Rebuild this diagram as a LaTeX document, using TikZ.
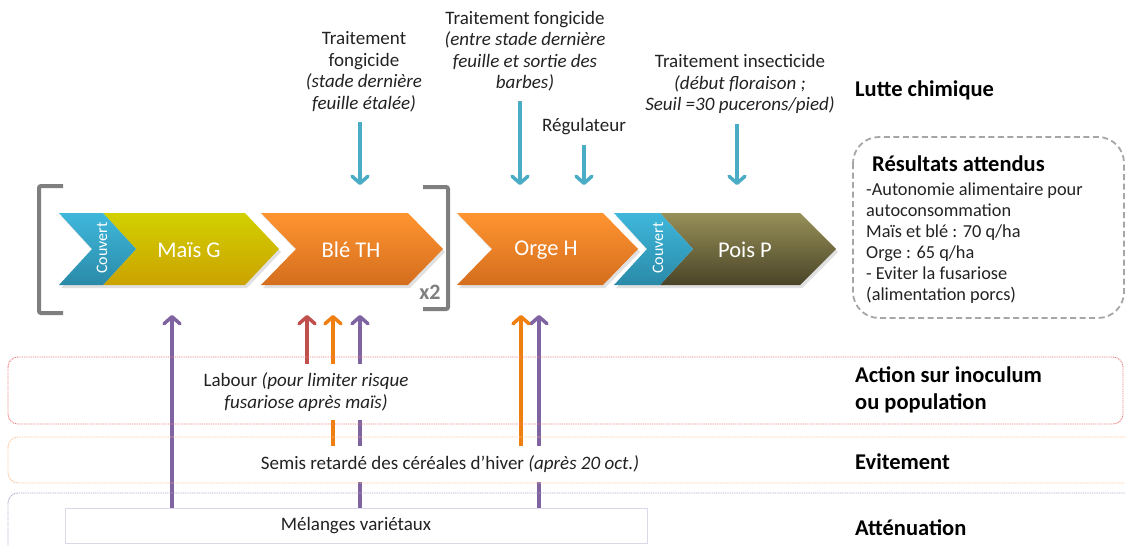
\documentclass[tikz,border=0pt]{standalone}
\usepackage{fontspec}
\setmainfont{Carlito}
\usetikzlibrary{arrows.meta,calc,backgrounds}
\definecolor{txt}{HTML}{222222}
\definecolor{blueA}{HTML}{4BACC6}
\definecolor{purA}{HTML}{8064A2}
\definecolor{redA}{HTML}{C0504D}
\definecolor{oraA}{HTML}{F07F12}
\definecolor{covT}{HTML}{3FB8DC}
\definecolor{covB}{HTML}{2A8AA8}
\definecolor{maisT}{HTML}{D2D000}
\definecolor{maisB}{HTML}{CBA200}
\definecolor{bleT}{HTML}{FF9430}
\definecolor{bleB}{HTML}{D46E1E}
\definecolor{poisT}{HTML}{979058}
\definecolor{poisB}{HTML}{4A4428}
\definecolor{brk}{HTML}{7F7F7F}
\definecolor{bandR}{HTML}{E98080}
\definecolor{bandO}{HTML}{FBC295}
\definecolor{bandP}{HTML}{B3A5CC}
\definecolor{melB}{HTML}{DCD8EA}
\definecolor{resB}{HTML}{A6A6A6}
\tikzset{
  body/.style={font=\fontsize{19}{21.5}\selectfont, text=txt, align=center, inner sep=0pt},
  lab/.style={font=\bfseries\fontsize{22.5}{27}\selectfont, text=black, align=left, anchor=base west, inner sep=0pt},
  chevtext/.style={font=\fontsize{22.5}{26}\selectfont, text=white, inner sep=0pt},
  covtext/.style={font=\fontsize{16}{18}\selectfont, text=white, rotate=90, inner sep=0pt},
  tipA/.style={-{Straight Barb[length=7pt,width=16pt,line width'=3.5pt,round]}},
  downarr/.style={draw=blueA, line width=3.5pt, shorten <=10pt, tipA},
  uparr/.style={line width=3.2pt, tipA},
  bracket/.style={draw=brk, line width=4pt, rounded corners=2pt},
  band/.style={line width=0.9pt, dash pattern=on 1pt off 0.8pt, rounded corners=10pt},
  mask/.style={fill=white, inner xsep=6pt},
  shadowc/.style={fill=black, opacity=0.12}
}
\begin{document}
\begin{tikzpicture}[x=1pt,y=-1pt]
\useasboundingbox (0,0) rectangle (1125,546);

% ---- bands ----
\draw[band, draw=bandR] (8,357) rectangle (1123,424);
\draw[band, draw=bandO] (8,437) rectangle (1135,483);
\draw[band, draw=bandP] (8,493) rectangle (1135,560);

% ---- chevron shadows ----
\fill[shadowc] (61,216) -- (247,216) -- (281,252) -- (247,288) -- (61,288) -- (94,252) -- cycle;
\fill[shadowc] (263,216) -- (410,216) -- (445,252) -- (410,288) -- (263,288) -- (298,252) -- cycle;
\fill[shadowc] (459,216) -- (605,216) -- (640,252) -- (605,288) -- (459,288) -- (494,252) -- cycle;
\fill[shadowc] (616,216) -- (802,216) -- (838,252) -- (802,288) -- (616,288) -- (649,252) -- cycle;

% ---- chevrons ----
\shade[top color=maisT, bottom color=maisB] (103,213) -- (245,213) -- (279,249) -- (245,285) -- (103,285) -- (136,249) -- cycle;
\shade[top color=covT, bottom color=covB] (59,213) -- (103,213) -- (136,249) -- (103,285) -- (59,285) -- (92,249) -- cycle;
\shade[top color=bleT, bottom color=bleB] (261,213) -- (408,213) -- (443,249) -- (408,285) -- (261,285) -- (296,249) -- cycle;
\shade[top color=bleT, bottom color=bleB] (457,213) -- (603,213) -- (638,249) -- (603,285) -- (457,285) -- (492,249) -- cycle;
\shade[top color=poisT, bottom color=poisB] (660,213) -- (800,213) -- (836,249) -- (800,285) -- (660,285) -- (693,249) -- cycle;
\shade[top color=covT, bottom color=covB] (614,213) -- (660,213) -- (693,249) -- (660,285) -- (614,285) -- (647,249) -- cycle;

\node[covtext] (cov1) at (102,248) {Couvert};
\node[chevtext] (mais) at (189,250) {Maïs G};
\node[chevtext] (ble) at (351,250) {Blé TH};
\node[chevtext] (orge) at (546,250) {Orge H};
\node[covtext] (cov2) at (658,248) {Couvert};
\node[chevtext] (pois) at (745,250) {Pois P};

% ---- bracket ----
\draw[bracket] (63,186) -- (39,186) -- (39,313) -- (63,313);
\draw[bracket] (423,187) -- (448,187) -- (448,309) -- (423,309);
\node[font=\bfseries\fontsize{22}{24}\selectfont, text=brk, inner sep=0pt] (x2) at (430,292) {x2};

% ---- top labels ----
\node[body] (fong1) at (364,72) {Traitement\\fongicide\\\textit{(stade dernière}\\\textit{feuille étalée)}};
\node[body] (fong2) at (525,51) {Traitement fongicide\\\textit{(entre stade dernière}\\\textit{feuille et sortie des}\\\textit{barbes)}};
\node[body] (regul) at (584,127) {Régulateur};
\node[body] (insect) at (740,84) {Traitement insecticide\\\textit{(début floraison ;}\\\textit{Seuil =30 pucerons/pied)}};
\node[lab] (lutte) at (855,96) {Lutte chimique};

\coordinate (dBle) at (360,185);
\coordinate (dOrge1) at (520,185);
\coordinate (dOrge2) at (584,185);
\coordinate (dPois) at (737,185);
\draw[downarr] (fong1.south -| dBle) -- (dBle);
\draw[downarr] (fong2.south -| dOrge1) -- (dOrge1);
\draw[downarr] (regul.south -| dOrge2) -- (dOrge2);
\draw[downarr] (insect.south -| dPois) -- (dPois);

% ---- results box ----
\draw[draw=resB, line width=1.8pt, dash pattern=on 6pt off 3.5pt, rounded corners=26pt] (853,137) rectangle (1124,318);
\node[font=\bfseries\fontsize{22.5}{25}\selectfont, text=black, anchor=base west, inner sep=0pt] (restitle) at (872,171) {Résultats attendus};
\node[font=\fontsize{18.3}{21}\selectfont, text=txt, align=left, anchor=west, inner sep=0pt] (resbody) at (866,243)
  {-Autonomie alimentaire pour\\autoconsommation\\Maïs  et blé : 70 q/ha\\Orge : 65 q/ha\\- Eviter la fusariose\\(alimentation porcs)};

% ---- lower text nodes ----
\node[draw=melB, line width=0.8pt, fill=white, minimum width=582pt, minimum height=35pt, inner sep=0pt,
      font=\fontsize{19}{21.5}\selectfont, text=txt] (mel) at (356,525.5) {Mélanges variétaux};
\node[body, mask, inner ysep=9pt] (labour) at (306,392) {Labour \textit{(pour limiter risque}\\\textit{fusariose après maïs)}};
\node[body, mask, inner ysep=9.5pt] (semis) at (450,464) {Semis retardé des céréales d’hiver \textit{(après 20 oct.)}};

\node[lab] (action) at (855,409) {Action sur inoculum\\ou population};
\node[lab] (evit) at (855,469) {Evitement};
\node[lab] (atten) at (855,535) {Atténuation};

% ---- upward arrows ----
\coordinate (tMais) at (172,315);
\coordinate (tBle1) at (307,315);
\coordinate (tBle2) at (333,315);
\coordinate (tBle3) at (360,315);
\coordinate (tOrge1) at (521,315);
\coordinate (tOrge2) at (539,315);
\begin{scope}[on background layer]
\draw[uparr, draw=purA] (mel.north -| tMais) -- (tMais);
\draw[uparr, draw=purA] (mel.north -| tBle3) -- (tBle3);
\draw[uparr, draw=purA] (mel.north -| tOrge2) -- (tOrge2);
\draw[uparr, draw=redA] (labour.north -| tBle1) -- (tBle1);
\draw[uparr, draw=oraA] (semis.north -| tBle2) -- (tBle2);
\draw[uparr, draw=oraA] (semis.north -| tOrge1) -- (tOrge1);
\end{scope}
\end{tikzpicture}
\end{document}
